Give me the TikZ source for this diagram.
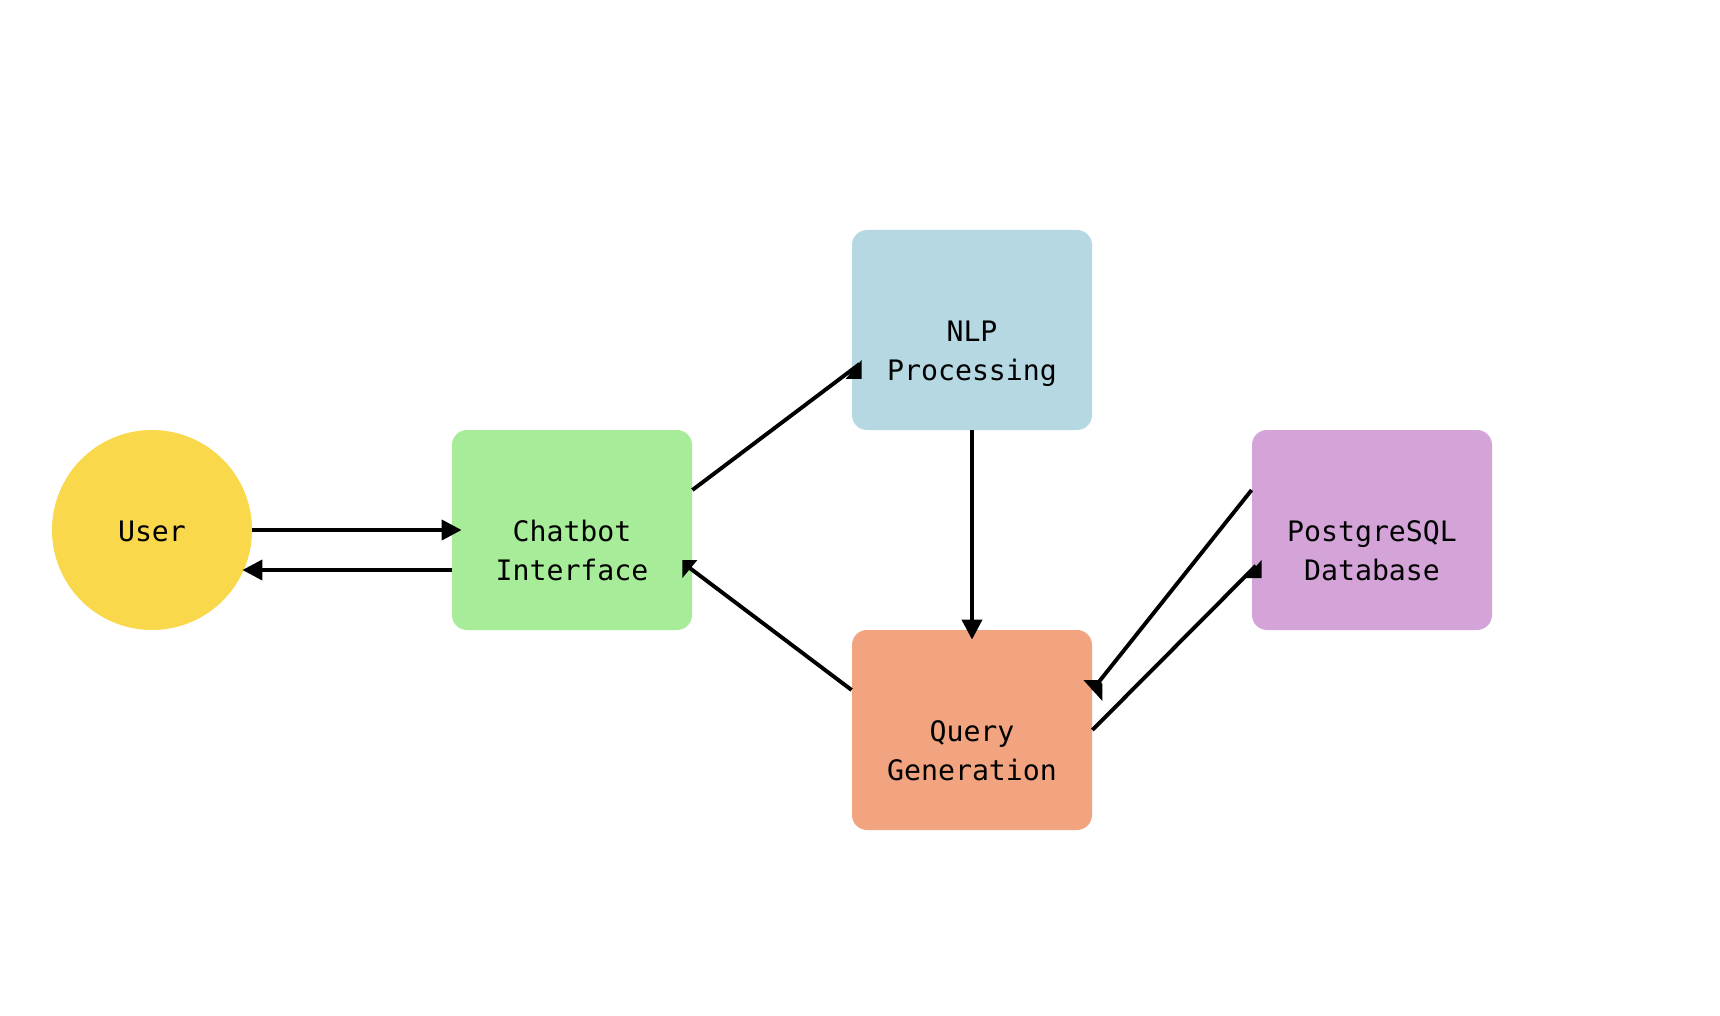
\documentclass[tikz,border=0pt]{standalone}
\usepackage{fontspec}
\setmonofont{DejaVu Sans Mono}
\usetikzlibrary{calc,arrows.meta}
\definecolor{cuser}{HTML}{F9D84B}
\definecolor{cchat}{HTML}{A7EC98}
\definecolor{cnlp}{HTML}{B6D8E3}
\definecolor{cquery}{HTML}{F2A480}
\definecolor{cdb}{HTML}{D4A4D9}
\begin{document}
\begin{tikzpicture}[x=0.5pt,y=-0.5pt,
  box/.style={rectangle,rounded corners=7.5pt,minimum width=120pt,minimum height=100pt,inner sep=0pt,draw=none},
  lbl/.style={font=\fontsize{14.1pt}{19.3pt}\selectfont\ttfamily,anchor=base,inner sep=0pt},
  conn/.style={line width=1.95pt,draw=black},
  tipped/.style={conn,-{Triangle[length=10pt,width=10pt]},shorten >=-5pt},
  head/.style={fill=black}]
\useasboundingbox (0,0) rectangle (1720,1016);
\fill[white] (0,0) rectangle (1720,1016);
% shapes
\node[circle,fill=cuser,minimum size=100pt,inner sep=0pt] (user) at (152,530) {};
\node[box,fill=cchat] (chat) at (572,530) {};
\node[box,fill=cnlp] (nlp) at (972,330) {};
\node[box,fill=cquery] (query) at (972,730) {};
\node[box,fill=cdb] (db) at (1372,530) {};
% labels
\node[lbl] (usert) at (152,541.5) {User};
\node[lbl] (chatt1) at (572,541.5) {Chatbot};
\node[lbl] (chatt2) at (572,580) {Interface};
\node[lbl] (nlpt1) at (972,341.5) {NLP};
\node[lbl] (nlpt2) at (972,380) {Processing};
\node[lbl] (queryt1) at (972,741.5) {Query};
\node[lbl] (queryt2) at (972,780) {Generation};
\node[lbl] (dbt1) at (1372,541.5) {PostgreSQL};
\node[lbl] (dbt2) at (1372,580) {Database};
% straight connectors
\draw[tipped] (user.east) -- (chat.west);
\draw[tipped] ($(chat.west)+(0,40)$) -- ($(user.east)+(0,40)$);
\draw[tipped] (nlp.south) -- (query.north);
% diagonal connectors with their heads
\coordinate (eA) at ($(nlp.west)+(0,40)$);
\draw[conn,shorten >=-5pt] ($(chat.east)+(0,-40)$) -- (eA);
\fill[head] ($(eA)+(-6,9)$) -- ($(eA)+(10,9)$) -- ($(eA)+(10,-10)$) -- cycle;
\coordinate (eB) at ($(chat.east)+(0,40)$);
\draw[conn,shorten >=-5pt] ($(query.west)+(0,-40)$) -- (eB);
\fill[head] ($(eB)+(-10,-10)$) -- ($(eB)+(5,-10)$) -- ($(eB)+(-10,8)$) -- cycle;
\coordinate (eC) at ($(query.east)+(0,-40)$);
\draw[conn] ($(db.west)+(0,-40)$) -- (eC);
\fill[head] ($(eC)+(-9,-10)$) -- ($(eC)+(7,-10)$) -- ($(eC)+(10,-6)$) -- ($(eC)+(10,11)$) -- cycle;
\coordinate (eD) at ($(db.west)+(0,40)$);
\draw[conn,shorten >=-3pt] (query.east) -- (eD);
\fill[head] ($(eD)+(10,-10)$) -- ($(eD)+(10,8)$) -- ($(eD)+(-6,8)$) -- cycle;
\end{tikzpicture}
\end{document}
